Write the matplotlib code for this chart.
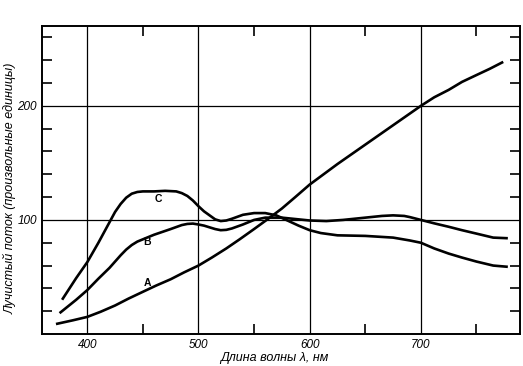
import matplotlib
matplotlib.use("Agg")
import matplotlib.pyplot as plt

# readings from the picture (wavelength nm, relative flux)
wl_a = [373, 387, 400, 412, 425, 437, 450, 462, 475, 487, 500, 512, 525, 537, 550, 562, 575,
        587, 600, 625, 650, 675, 700, 712, 725, 737, 750, 762, 773]
val_a = [9, 12, 15, 19.5, 25, 31, 37, 42.5, 48, 54, 60, 67, 75, 83, 92, 100.5, 110,
         120, 131, 149, 166, 183, 200, 207.5, 214, 221, 227, 232.5, 238]

wl_b = [376, 390, 400, 410, 420, 430, 435, 440, 445, 450, 460, 475, 485, 490, 495, 500, 505,
        510, 515, 520, 525, 530, 540, 550, 560, 575, 590, 600, 615, 630, 650, 665, 675,
        685, 690, 700, 712, 725, 737, 750, 765, 777]
val_b = [19, 30, 38.5, 48.5, 58, 69, 74, 78, 81, 83, 87, 92, 95.5, 96.5, 96.8, 96, 95,
         93.5, 92, 91, 91.3, 92.5, 96, 100, 102, 102, 100.5, 99.5, 99, 100, 102, 103.5, 104,
         103.5, 102.5, 100, 97, 94, 91, 88, 84.5, 84]

wl_c = [378, 390, 400, 410, 420, 425, 430, 435, 440, 445, 450, 460, 470, 480, 485, 490, 495,
        500, 505, 510, 515, 520, 525, 530, 540, 550, 560, 570, 580, 590, 600, 610, 625,
        650, 675, 690, 700, 712, 725, 737, 750, 765, 777]
val_c = [31, 49, 63, 80, 98, 107, 114, 119.5, 123, 124.5, 125, 125, 125.5, 125, 123.5, 121, 117,
         112, 107.5, 104, 100.5, 99, 99.5, 101, 104.5, 106, 106, 104, 99.5, 95, 91, 88.5, 86.5,
         86, 84.5, 82, 80, 75, 70.5, 67, 63.5, 60, 59]

xticks = [400, 500, 600, 700]
yticks = [100, 200]
fam = "Liberation Sans"

fig = plt.figure(figsize=(5.23, 3.66), dpi=100)
ax = fig.add_axes([0.0797, 0.0874, 0.9143, 0.8416])

for x in xticks:
    ax.axvline(x, color="black", lw=0.9, zorder=1)
for y in yticks:
    ax.axhline(y, color="black", lw=0.9, zorder=1)

ax.plot(wl_a, val_a, color="black", lw=1.9, zorder=3, solid_joinstyle="round")
ax.plot(wl_b, val_b, color="black", lw=1.9, zorder=3, solid_joinstyle="round")
ax.plot(wl_c, val_c, color="black", lw=1.9, zorder=3, solid_joinstyle="round")

ax.text(454, 45, "A", fontsize=7.5, fontweight="bold", ha="center", va="center", family=fam)
ax.text(454, 80.5, "B", fontsize=7.5, fontweight="bold", ha="center", va="center", family=fam)
ax.text(464, 118, "C", fontsize=7.5, fontweight="bold", ha="center", va="center", family=fam)

ax.set_xlim(359, 789)
ax.set_ylim(0, 270)

ax.set_xticks(xticks)
ax.set_xticklabels([str(t) for t in xticks], fontstyle="italic", fontsize=8.5, family=fam)
ax.set_yticks(yticks)
ax.set_yticklabels([str(t) for t in yticks], fontstyle="italic", fontsize=8.5, family=fam)
ax.set_xticks(range(450, 800, 100), minor=True)
ax.set_yticks(range(20, 270, 20), minor=True)
ax.tick_params(which="major", length=0, pad=3.5)
ax.tick_params(which="minor", direction="in", length=7, width=1.2,
               top=True, right=True, labelbottom=False, labelleft=False)

for s in ax.spines.values():
    s.set_linewidth(1.4)

ax.set_xlabel("Длина волны λ, нм", fontstyle="italic", fontsize=9, family=fam)
ax.set_ylabel("Лучистый поток (произвольные единицы)", fontstyle="italic", fontsize=9, family=fam)
ax.xaxis.set_label_coords(0.486, -0.058)
ax.yaxis.set_label_coords(-0.052, 0.474)

fig.savefig("out.png", dpi=100)
